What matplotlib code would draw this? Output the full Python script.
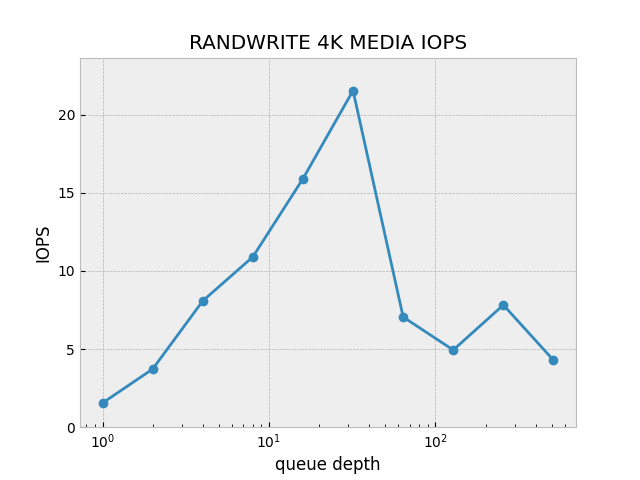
import matplotlib
matplotlib.use("Agg")
import matplotlib.pyplot as plt

# 数据：队列深度与对应的 IOPS
QUEUE_DEPTHS = [1, 2, 4, 8, 16, 32, 64, 128, 256, 512]
IOPS = [1.55, 3.72, 8.08, 10.9, 15.9, 21.54, 7.05, 4.94, 7.82, 4.29]

plt.style.use("bmh")

fig, ax = plt.subplots(figsize=(6.4, 4.8), dpi=100)
ax.plot(QUEUE_DEPTHS, IOPS, marker="o")
ax.set_xscale("log")
ax.set_ylim(0, 23.65)
ax.set_title("RANDWRITE 4K MEDIA IOPS")
ax.set_xlabel("queue depth")
ax.set_ylabel("IOPS")

fig.savefig("out.png", dpi=100)
plt.close(fig)
